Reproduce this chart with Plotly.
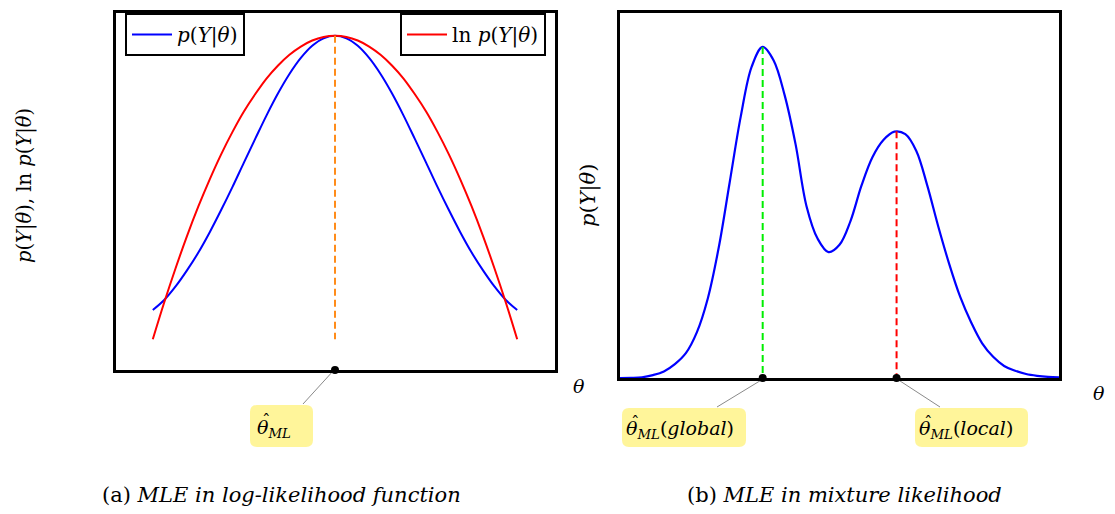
import plotly.graph_objects as go

# page offset (browser body margin) compensation
OFF = 8
W, H = 1115 - 2 * OFF, 514 - 2 * OFF

# ---------------- data ----------------
# left panel: theta grid and curves
theta_a = [-2.0, -1.875, -1.75, -1.625, -1.5, -1.375, -1.25, -1.125, -1.0, -0.875,
           -0.75, -0.625, -0.5, -0.375, -0.25, -0.125, 0.0, 0.125, 0.25, 0.375,
           0.5, 0.625, 0.75, 0.875, 1.0, 1.125, 1.25, 1.375, 1.5, 1.625,
           1.75, 1.875, 2.0]
p_a = [0.168, 0.196, 0.234, 0.279, 0.329, 0.386, 0.448, 0.513, 0.581, 0.648,
       0.714, 0.775, 0.829, 0.874, 0.908, 0.929, 0.936, 0.929, 0.908, 0.874,
       0.829, 0.775, 0.714, 0.648, 0.581, 0.513, 0.448, 0.386, 0.329, 0.279,
       0.234, 0.196, 0.168]
lnp_a = [0.086, 0.189, 0.285, 0.375, 0.458, 0.534, 0.604, 0.667, 0.724, 0.773,
         0.817, 0.853, 0.883, 0.906, 0.923, 0.933, 0.936, 0.933, 0.923, 0.906,
         0.883, 0.853, 0.817, 0.773, 0.724, 0.667, 0.604, 0.534, 0.458, 0.375,
         0.285, 0.189, 0.086]
theta_ml = 0.0
p_ml = 0.936
dash_bottom_a = 0.086

# right panel: mixture likelihood
theta_b = [0.0, 0.025, 0.05, 0.075, 0.1, 0.125, 0.15, 0.175, 0.2, 0.225,
           0.25, 0.275, 0.3, 0.325, 0.35, 0.375, 0.4, 0.425, 0.45, 0.475,
           0.5, 0.525, 0.55, 0.575, 0.6, 0.625, 0.65, 0.675, 0.7, 0.725,
           0.75, 0.775, 0.8, 0.825, 0.85, 0.875, 0.9, 0.925, 0.95, 0.975, 1.0]
p_b = [0.0, 0.0005, 0.002, 0.008, 0.018, 0.038, 0.068, 0.125, 0.218, 0.358,
       0.537, 0.716, 0.853, 0.907, 0.87, 0.775, 0.64, 0.47, 0.382, 0.345,
       0.365, 0.43, 0.527, 0.605, 0.652, 0.675, 0.668, 0.622, 0.527, 0.415,
       0.312, 0.222, 0.152, 0.095, 0.058, 0.033, 0.02, 0.011, 0.006, 0.003, 0.0015]
theta_global, p_global = 0.325, 0.907
theta_local, p_local = 0.63, 0.676

legend_labels = ["<i>p</i>(<i>Y</i>|<i>θ</i>)", "ln <i>p</i>(<i>Y</i>|<i>θ</i>)"]
ylabel_a = "<i>p</i>(<i>Y</i>|<i>θ</i>), ln <i>p</i>(<i>Y</i>|<i>θ</i>)"
ylabel_b = "<i>p</i>(<i>Y</i>|<i>θ</i>)"
captions = ["(a) <i>MLE in log-likelihood function</i>", "(b) <i>MLE in mixture likelihood</i>"]
labels = ["<i>θ</i><sub><i>ML</i></sub>",
          "<i>θ</i><sub><i>ML</i></sub>(<i>global</i>)",
          "<i>θ</i><sub><i>ML</i></sub>(<i>local</i>)"]
HAT = "ˆ"

FONT = "DejaVu Serif"


def px(x):
    return (x - OFF) / W


def py(y):
    return 1 - (y - OFF) / H


fig = go.Figure()

# left panel
fig.add_trace(go.Scatter(x=theta_a, y=p_a, mode="lines", line=dict(color="#0000ff", width=2, shape="spline"),
                         name=legend_labels[0], legend="legend", xaxis="x", yaxis="y", cliponaxis=False))
fig.add_trace(go.Scatter(x=theta_a, y=lnp_a, mode="lines", line=dict(color="#ff0000", width=2, shape="spline"),
                         name=legend_labels[1], legend="legend2", xaxis="x", yaxis="y", cliponaxis=False))
fig.add_trace(go.Scatter(x=[theta_ml, theta_ml], y=[p_ml, dash_bottom_a], mode="lines",
                         line=dict(color="#ff8c1a", width=2, dash="7px,4px"), showlegend=False,
                         xaxis="x", yaxis="y"))
fig.add_trace(go.Scatter(x=[theta_ml], y=[0], mode="markers", marker=dict(color="black", size=8),
                         showlegend=False, xaxis="x", yaxis="y", cliponaxis=False))

# right panel
fig.add_trace(go.Scatter(x=theta_b, y=p_b, mode="lines", line=dict(color="#0000ff", width=2.2, shape="spline"),
                         showlegend=False, xaxis="x2", yaxis="y2", cliponaxis=False))
fig.add_trace(go.Scatter(x=[theta_global, theta_global], y=[p_global, 0], mode="lines",
                         line=dict(color="#00ee00", width=2, dash="7px,4px"), showlegend=False,
                         xaxis="x2", yaxis="y2"))
fig.add_trace(go.Scatter(x=[theta_local, theta_local], y=[p_local, 0], mode="lines",
                         line=dict(color="#ff0000", width=2, dash="7px,4px"), showlegend=False,
                         xaxis="x2", yaxis="y2"))
fig.add_trace(go.Scatter(x=[theta_global, theta_local], y=[0, 0], mode="markers",
                         marker=dict(color="black", size=8), showlegend=False,
                         xaxis="x2", yaxis="y2", cliponaxis=False))

ax_common = dict(showgrid=False, zeroline=False, showticklabels=False, ticks="",
                 showline=True, mirror=True, linecolor="black", linewidth=2.5,
                 layer="below traces", fixedrange=True)

fig.update_layout(
    width=W, height=H,
    margin=dict(l=0, r=0, t=0, b=0),
    paper_bgcolor="white", plot_bgcolor="white",
    font=dict(family=FONT, size=18, color="black"),
    xaxis=dict(domain=[px(116), px(555)], range=[-2.404, 2.415], anchor="y", **ax_common),
    yaxis=dict(domain=[py(370), py(13)], range=[0, 1], anchor="x", **ax_common),
    xaxis2=dict(domain=[px(620), px(1059)], range=[0, 1], anchor="y2", **ax_common),
    yaxis2=dict(domain=[py(378), py(13)], range=[0, 1], anchor="x2", **ax_common),
    legend=dict(x=px(125), y=py(13), xanchor="left", yanchor="top", bgcolor="white",
                bordercolor="black", borderwidth=2, itemwidth=40,
                font=dict(family=FONT, size=20)),
    legend2=dict(x=px(546), y=py(13), xanchor="right", yanchor="top", bgcolor="white",
                 bordercolor="black", borderwidth=2, itemwidth=40,
                 font=dict(family=FONT, size=20)),
    showlegend=True,
)


# rounded yellow label boxes
def rounded(x0, y0, x1, y1, r=7):
    X0, X1 = px(x0), px(x1)
    Y0, Y1 = py(y0), py(y1)
    rx, ry = r / W, r / H
    return (f"M {X0+rx},{Y0} L {X1-rx},{Y0} Q {X1},{Y0} {X1},{Y0-ry} "
            f"L {X1},{Y1+ry} Q {X1},{Y1} {X1-rx},{Y1} L {X0+rx},{Y1} "
            f"Q {X0},{Y1} {X0},{Y1+ry} L {X0},{Y0-ry} Q {X0},{Y0} {X0+rx},{Y0} Z")


boxes = [(250, 405, 313, 447), (622, 408, 746, 447), (915, 408, 1028, 447)]
text_start = [258, 627, 920]
connectors = [((334, 370), (303, 404)), ((763, 379), (717, 407)), ((897, 379), (940, 407))]

for (a, b) in connectors:
    fig.add_shape(type="line", xref="paper", yref="paper", x0=px(a[0]), y0=py(a[1]),
                  x1=px(b[0]), y1=py(b[1]), line=dict(color="#8a8a8a", width=1), layer="below")
for (x0, y0, x1, y1), xs, txt in zip(boxes, text_start, labels):
    fig.add_shape(type="path", xref="paper", yref="paper", path=rounded(x0, y0, x1, y1),
                  fillcolor="#fff59a", line=dict(width=0), layer="above")
    yc = (y0 + y1) / 2
    fig.add_annotation(x=px(xs - 3), y=py(yc + 2), xref="paper", yref="paper",
                       text=txt, showarrow=False, font=dict(family=FONT, size=19),
                       xanchor="left", yanchor="middle")
    fig.add_annotation(x=px(xs + 8), y=py(yc - 6), xref="paper", yref="paper",
                       text=HAT, showarrow=False, font=dict(family=FONT, size=17),
                       xanchor="center", yanchor="middle")

# axis labels
fig.add_annotation(x=px(25), y=py(186), xref="paper", yref="paper", text=ylabel_a, textangle=-90,
                   showarrow=False, font=dict(family=FONT, size=19.5), xanchor="center", yanchor="middle")
fig.add_annotation(x=px(588), y=py(196), xref="paper", yref="paper", text=ylabel_b, textangle=-90,
                   showarrow=False, font=dict(family=FONT, size=21), xanchor="center", yanchor="middle")
fig.add_annotation(x=px(571), y=py(386), xref="paper", yref="paper", text="<i>θ</i>",
                   showarrow=False, font=dict(family=FONT, size=19), xanchor="left", yanchor="middle")
fig.add_annotation(x=px(1091), y=py(393), xref="paper", yref="paper", text="<i>θ</i>",
                   showarrow=False, font=dict(family=FONT, size=19), xanchor="left", yanchor="middle")

# captions
fig.add_annotation(x=px(281), y=py(495), xref="paper", yref="paper", text=captions[0],
                   showarrow=False, font=dict(family=FONT, size=21), xanchor="center", yanchor="middle")
fig.add_annotation(x=px(844), y=py(495), xref="paper", yref="paper", text=captions[1],
                   showarrow=False, font=dict(family=FONT, size=21), xanchor="center", yanchor="middle")

fig.write_html("out.html")
